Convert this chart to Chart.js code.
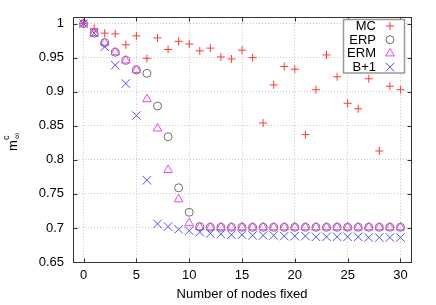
<!DOCTYPE html>
<html>
<head>
<meta charset="utf-8">
<script src="https://cdn.jsdelivr.net/npm/chart.js@4.4.1/dist/chart.umd.min.js"></script>
<style>
  html, body { margin: 0; padding: 0; background: #fff; }
</style>
</head>
<body>
<canvas id="myChart" width="436" height="305"></canvas>
<script>
// Data
const nodesFixed = [
  0, 1, 2, 3, 4, 5, 6, 7, 8, 9,
  10, 11, 12, 13, 14, 15, 16, 17, 18, 19,
  20, 21, 22, 23, 24, 25, 26, 27, 28, 29, 30
];
const mcValues = [
  1.0, 0.993, 0.986, 0.985, 0.969, 0.982, 0.949, 0.979, 0.962, 0.974,
  0.970, 0.960, 0.964, 0.951, 0.948, 0.961, 0.950, 0.854, 0.910, 0.937,
  0.933, 0.837, 0.903, 0.954, 0.922, 0.883, 0.875, 0.919, 0.813, 0.908, 0.903
];
const erpValues = [
  1.0, 0.986, 0.972, 0.958, 0.946, 0.932, 0.927, 0.879, 0.834, 0.759,
  0.723, 0.702, 0.701, 0.701, 0.701, 0.701, 0.701, 0.701, 0.701, 0.701,
  0.701, 0.701, 0.701, 0.701, 0.701, 0.701, 0.701, 0.701, 0.701, 0.701, 0.701
];
const ermValues = [
  1.0, 0.986, 0.972, 0.958, 0.946, 0.932, 0.889, 0.846, 0.785, 0.742,
  0.707, 0.701, 0.701, 0.701, 0.701, 0.701, 0.701, 0.701, 0.701, 0.701,
  0.701, 0.701, 0.701, 0.701, 0.701, 0.701, 0.701, 0.701, 0.701, 0.701, 0.701
];
const b1Values = [
  1.0, 0.986, 0.966, 0.939, 0.912, 0.865, 0.770, 0.706, 0.702, 0.698,
  0.696, 0.694, 0.692, 0.691, 0.690, 0.690, 0.689, 0.689, 0.689, 0.688,
  0.688, 0.688, 0.687, 0.687, 0.687, 0.687, 0.687, 0.686, 0.686, 0.686, 0.686
];
const seriesNames = ['MC', 'ERP', 'ERM', 'B+1'];
const xTicks = [0, 5, 10, 15, 20, 25, 30];
const yTicks = [0.65, 0.7, 0.75, 0.8, 0.85, 0.9, 0.95, 1];

const FONT = "'Liberation Sans', Arial, sans-serif";

function points(values) {
  return nodesFixed.map((x, i) => ({ x: x, y: values[i] }));
}

// gnuplot style frame: full box, inward ticks, legend box and the y title
const framePlugin = {
  id: 'frame',
  afterDraw(chart) {
    const ctx = chart.ctx;
    const a = chart.chartArea;
    const xs = chart.scales.x, ys = chart.scales.y;
    const L = Math.round(a.left) + 0.5, R = Math.round(a.right) + 0.5;
    const T = Math.round(a.top) + 0.5, B = Math.round(a.bottom) + 0.5;
    ctx.save();
    ctx.strokeStyle = '#333';
    ctx.lineWidth = 1;
    ctx.beginPath();
    xTicks.forEach(v => {
      const px = Math.round(xs.getPixelForValue(v)) + 0.5;
      ctx.moveTo(px, B); ctx.lineTo(px, B - 4);
      ctx.moveTo(px, T); ctx.lineTo(px, T + 4);
    });
    yTicks.forEach(v => {
      const py = Math.round(ys.getPixelForValue(v)) + 0.5;
      ctx.moveTo(L, py); ctx.lineTo(L + 4, py);
      ctx.moveTo(R, py); ctx.lineTo(R - 4, py);
    });
    ctx.stroke();
    ctx.strokeRect(L, T, R - L, B - T);

    // legend
    const bx = 343.5, by = 19.5, bw = 61, bh = 53.5;
    ctx.fillStyle = '#fff';
    ctx.fillRect(bx, by, bw, bh);
    ctx.strokeStyle = '#999';
    ctx.lineWidth = 1.5;
    ctx.strokeRect(bx, by, bw, bh);
    ctx.font = '13px ' + FONT;
    ctx.textAlign = 'right';
    ctx.textBaseline = 'middle';
    chart.data.datasets.forEach((ds, i) => {
      const rowY = 26 + i * 13.7;
      ctx.fillStyle = '#000';
      ctx.fillText(ds.label, 376, rowY + 0.5);
      ctx.strokeStyle = ds.borderColor;
      ctx.fillStyle = 'rgba(0,0,0,0)';
      ctx.lineWidth = 1;
      Chart.helpers.drawPoint(ctx, {
        pointStyle: ds.pointStyle, radius: ds.pointRadius, rotation: 0, borderWidth: 1
      }, 390, rowY);
    });

    // y title: m^c_inf
    ctx.translate(17, 151);
    ctx.rotate(-Math.PI / 2);
    ctx.fillStyle = '#000';
    ctx.textAlign = 'left';
    ctx.textBaseline = 'alphabetic';
    ctx.font = '13px ' + FONT;
    ctx.fillText('m', 0, 0);
    ctx.font = '9px ' + FONT;
    ctx.fillText('c', 11, -8.5);
    ctx.fillText('\u221E', 12, 3);
    ctx.restore();
  }
};

const data = {
  datasets: [
    {
      label: seriesNames[0],
      data: points(mcValues),
      pointStyle: 'cross',
      pointRadius: 4,
      borderColor: 'rgb(255, 60, 60)',
      order: 4
    },
    {
      label: seriesNames[1],
      data: points(erpValues),
      pointStyle: 'circle',
      pointRadius: 4,
      borderColor: 'rgb(110, 110, 110)',
      order: 3
    },
    {
      label: seriesNames[2],
      data: points(ermValues),
      pointStyle: 'triangle',
      pointRadius: 5,
      borderColor: 'rgb(240, 70, 240)',
      order: 2
    },
    {
      label: seriesNames[3],
      data: points(b1Values),
      pointStyle: 'crossRot',
      pointRadius: 6,
      borderColor: 'rgb(80, 80, 255)',
      order: 1
    }
  ]
};
data.datasets.forEach(ds => {
  ds.backgroundColor = 'rgba(0,0,0,0)';
  ds.pointBorderWidth = 1;
  ds.pointHoverRadius = ds.pointRadius;
  ds.showLine = false;
});

const config = {
  type: 'scatter',
  data: data,
  options: {
    responsive: false,
    animation: false,
    layout: { padding: { left: 0, top: 16, right: 25, bottom: 0 } },
    plugins: {
      legend: { display: false },
      tooltip: { enabled: false }
    },
    scales: {
      x: {
        type: 'linear',
        min: -1,
        max: 31,
        afterBuildTicks: s => { s.ticks = xTicks.map(v => ({ value: v })); },
        afterFit: s => { s.height = 43; },
        grid: { color: '#c8c8c8', drawTicks: false },
        border: { display: false, dash: [1, 2] },
        ticks: { color: '#000', font: { family: FONT, size: 13 }, padding: 6, maxRotation: 0, autoSkip: false },
        title: {
          display: true,
          text: 'Number of nodes fixed',
          color: '#000',
          font: { family: FONT, size: 13 },
          padding: { top: 0, bottom: 3 }
        }
      },
      y: {
        type: 'linear',
        min: 0.65,
        max: 1.01,
        afterBuildTicks: s => { s.ticks = yTicks.map(v => ({ value: v })); },
        afterFit: s => { s.width = 73; },
        grid: { color: '#c8c8c8', drawTicks: false },
        border: { display: false, dash: [1, 2] },
        ticks: { color: '#000', font: { family: FONT, size: 13 }, padding: 9, callback: v => String(v) }
      }
    }
  },
  plugins: [framePlugin]
};

var myChart = new Chart(document.getElementById('myChart'), config);
</script>
</body>
</html>
